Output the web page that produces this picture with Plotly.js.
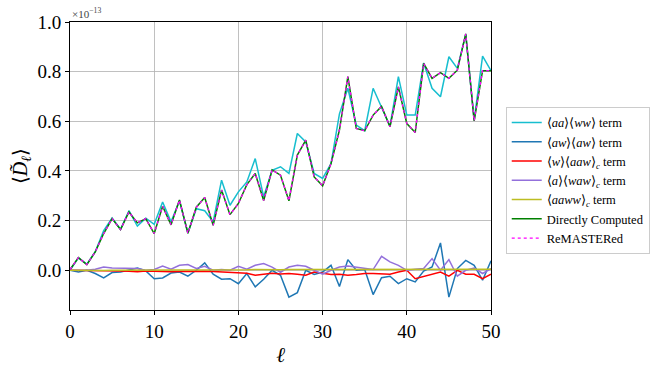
<!DOCTYPE html>
<html>
<head>
<meta charset="utf-8">
<script src="https://cdn.plot.ly/plotly-3.0.1.min.js"></script>
<style>
  html, body { margin: 0; padding: 0; background: #fff; }
  #plot { width: 664px; height: 369px; }
</style>
</head>
<body>
<div id="plot"></div>
<script>
// multipoles ell = 0..50
var ell = [];
for (var i = 0; i <= 50; i++) ell.push(i);

// values in units of 1e-13
var aaww = [0.0, 0.05, 0.025, 0.075, 0.16, 0.21, 0.165, 0.24, 0.178, 0.21,
  0.185, 0.275, 0.195, 0.28, 0.15, 0.248, 0.24, 0.195, 0.363, 0.262,
  0.316, 0.356, 0.45, 0.296, 0.403, 0.417, 0.39, 0.551, 0.517, 0.39,
  0.37, 0.43, 0.63, 0.733, 0.585, 0.562, 0.733, 0.653, 0.58, 0.78,
  0.625, 0.625, 0.835, 0.733, 0.699, 0.86, 0.813, 0.95, 0.605, 0.863, 0.804];

var awaw = [0, -0.007, 0, -0.013, -0.031, -0.009, -0.007, 0, 0.009, -0.003,
  -0.034, -0.031, -0.011, -0.007, -0.024, 0, 0.03, -0.016, -0.036, -0.034,
  -0.054, -0.013, -0.067, -0.036, 0, -0.02, -0.108, -0.09, 0, -0.017,
  -0.007, 0.02, -0.065, 0.043, 0, 0.003, -0.098, -0.03, -0.024, -0.054,
  -0.034, -0.047, -0.003, 0.013, 0.11, -0.108, 0.007, 0.04, 0.02, -0.04, 0.038];

var wAaw = [0, 0, -0.001, -0.002, -0.002, -0.003, -0.003, -0.004, -0.006, -0.003,
  -0.005, -0.004, -0.006, -0.005, -0.004, -0.002, -0.004, -0.005, -0.006, -0.008,
  -0.011, -0.012, -0.02, -0.016, -0.012, -0.015, -0.013, -0.016, -0.02, -0.007,
  -0.013, -0.017, -0.016, -0.02, -0.017, -0.013, -0.013, -0.016, -0.016, -0.007,
  0, -0.034, -0.024, -0.016, -0.007, -0.024, 0, -0.016, -0.016, -0.034, -0.016];

var aWaw = [0, 0, 0, 0.004, 0.013, 0.009, 0.008, 0.009, 0.007, 0,
  0.003, 0.017, 0.004, 0.02, 0.023, 0.007, 0.016, 0, 0.003, 0,
  0.016, 0.004, 0.02, 0.027, 0.013, -0.008, 0.013, 0.02, 0.016, 0,
  -0.016, 0, 0.013, 0.017, 0.013, 0.007, 0.003, 0.056, 0.034, 0.02,
  0, 0.004, 0.007, 0.047, 0, 0.043, -0.024, 0, 0.009, -0.013, 0.007];

var aawwC = [0, -0.001, -0.001, 0, -0.001, 0, 0, -0.001, 0, 0.001,
  0, 0, 0.001, 0, 0.001, 0.001, 0, 0.001, 0.002, 0.001,
  0.002, 0.002, 0.003, 0.002, 0.003, 0.002, 0.003, 0.003, 0.004, 0.003,
  0.003, 0.004, 0.003, 0.004, 0.004, 0.003, 0.004, 0.005, 0.004, 0.004,
  0.005, 0.004, 0.005, 0.004, 0.005, 0.005, 0.004, 0.005, 0.004, 0.005, 0.004];

var direct = [0.003, 0.051, 0.023, 0.074, 0.148, 0.208, 0.164, 0.235, 0.191, 0.208,
  0.148, 0.258, 0.183, 0.283, 0.149, 0.254, 0.293, 0.181, 0.323, 0.224,
  0.269, 0.345, 0.39, 0.281, 0.404, 0.383, 0.28, 0.464, 0.524, 0.376,
  0.34, 0.43, 0.565, 0.78, 0.571, 0.562, 0.625, 0.66, 0.578, 0.739,
  0.591, 0.555, 0.833, 0.773, 0.796, 0.773, 0.806, 0.952, 0.602, 0.804, 0.804];

var remastered = direct.slice();

var names = [
  "⟨<i>aa</i>⟩⟨<i>ww</i>⟩ term",
  "⟨<i>aw</i>⟩⟨<i>aw</i>⟩ term",
  "⟨<i>w</i>⟩⟨<i>aaw</i>⟩<sub><i>c</i></sub> term",
  "⟨<i>a</i>⟩⟨<i>waw</i>⟩<sub><i>c</i></sub> term",
  "⟨<i>aaww</i>⟩<sub><i>c</i></sub> term",
  "Directly Computed",
  "ReMASTERed"
];
var series = [aaww, awaw, wAaw, aWaw, aawwC, direct, remastered];
var colors = ["#17becf", "#1f77b4", "#ff0000", "#9370db", "#bcbd22", "#008000", "#ff00ff"];

var data = series.map(function (ys, k) {
  return {
    x: ell,
    y: ys,
    type: "scatter",
    mode: "lines",
    name: names[k],
    line: { color: colors[k], width: k == 6 ? 1.3 : 1.5, dash: k == 6 ? "dot" : "solid" }
  };
});

var serif = "Liberation Serif";

var layout = {
  width: 664,
  height: 369,
  margin: { l: 70, r: 173, t: 22, b: 59 },
  paper_bgcolor: "#fff",
  plot_bgcolor: "#fff",
  font: { family: serif, color: "#000" },
  showlegend: true,
  legend: {
    x: 1.035, xanchor: "left",
    y: 0.45, yanchor: "middle",
    bordercolor: "#cccccc", borderwidth: 1,
    font: { size: 12.5, family: serif },
    itemwidth: 30,
    tracegroupgap: 0
  },
  xaxis: {
    range: [0, 50],
    tickvals: [0, 10, 20, 30, 40, 50],
    ticks: "outside", ticklen: 4, tickcolor: "#000",
    showline: true, linecolor: "#000", linewidth: 1, mirror: true,
    showgrid: true, gridcolor: "#b0b0b0", gridwidth: 0.8,
    zeroline: false,
    tickfont: { size: 19, family: serif },
    title: { text: "<i>ℓ</i>", font: { size: 21, family: serif }, standoff: 6 }
  },
  yaxis: {
    range: [-0.16, 1.0],
    tickvals: [0, 0.2, 0.4, 0.6, 0.8, 1.0],
    tickformat: ".1f",
    ticks: "outside", ticklen: 4, tickcolor: "#000",
    showline: true, linecolor: "#000", linewidth: 1, mirror: true,
    showgrid: true, gridcolor: "#b0b0b0", gridwidth: 0.8,
    zeroline: false,
    tickfont: { size: 19, family: serif },
    title: { text: "⟨<i>D̃</i><sub><i>ℓ</i></sub>⟩", font: { size: 20, family: serif }, standoff: 4 }
  },
  annotations: [{
    xref: "paper", yref: "paper",
    x: 0, y: 1, xanchor: "left", yanchor: "bottom",
    text: "×10<sup>−13</sup>",
    showarrow: false,
    font: { size: 11, color: "#444", family: serif }
  }]
};

Plotly.newPlot("plot", data, layout, { displayModeBar: false, staticPlot: true });
</script>
</body>
</html>
